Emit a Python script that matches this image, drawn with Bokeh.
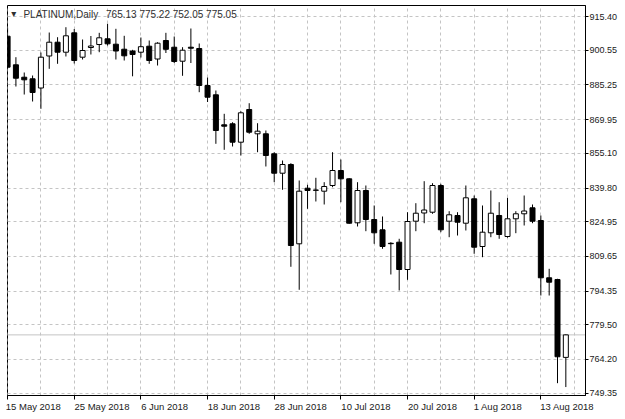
from bokeh.plotting import figure
from bokeh.models import FixedTicker, Range1d, Label, Span, ColumnDataSource, NumeralTickFormatter
from bokeh.embed import file_html
from bokeh.resources import INLINE

# Daily OHLC, 15 May 2018 .. 16 Aug 2018 (one bar per trading day)
opens = [906.71, 894.11, 888.64, 887.94, 883.88, 897.99, 904.07, 899.66, 908.21, 897.46,
         901.73, 903.05, 905.57, 903.19, 900.98, 900.19, 899.66, 902.31, 896.66, 904.82,
         901.86, 895.69, 901.86, 901.29, 884.98, 880.88, 867.66, 868.10, 859.99, 874.40,
         863.69, 863.69, 854.88, 846.32, 850.16, 815.20, 839.71, 838.90, 838.39, 840.90,
         847.51, 843.85, 824.46, 838.70, 825.91, 821.37, 815.42, 815.91, 803.87, 825.17,
         828.78, 829.13, 840.90, 825.17, 827.68, 824.28, 835.04, 814.01, 820.05, 827.68,
         818.42, 826.22, 828.43, 831.07, 825.47, 800.22, 799.47, 765.13]
highs = [910.55, 897.46, 890.71, 889.39, 899.53, 908.34, 906.27, 910.68, 909.89, 905.26,
         906.80, 908.21, 912.18, 909.98, 906.89, 900.72, 906.14, 904.82, 904.07, 908.21,
         906.58, 901.86, 910.11, 903.50, 888.51, 882.78, 872.51, 868.80, 873.65, 877.18,
         868.36, 865.15, 855.58, 851.92, 850.73, 843.11, 841.21, 844.30, 842.36, 855.58,
         852.36, 844.12, 842.36, 840.90, 832.09, 827.24, 815.91, 817.41, 829.13, 833.10,
         842.80, 841.92, 841.65, 829.57, 829.13, 840.90, 836.49, 832.09, 838.70, 833.54,
         835.48, 829.57, 836.49, 832.53, 827.68, 804.18, 799.78, 775.22]
lows = [892.34, 884.54, 881.01, 877.93, 874.71, 892.34, 894.55, 897.77, 894.68, 896.44,
        898.65, 899.66, 902.61, 896.44, 896.00, 889.04, 897.32, 894.55, 893.80, 899.31,
        894.90, 889.26, 894.90, 882.03, 877.71, 859.28, 856.64, 858.09, 854.13, 863.69,
        855.58, 849.28, 842.36, 839.01, 805.07, 794.93, 830.63, 833.85, 832.53, 840.15,
        833.54, 824.02, 822.83, 820.76, 815.20, 813.00, 801.67, 794.62, 799.33, 820.76,
        824.28, 828.43, 820.32, 818.11, 818.86, 821.07, 810.80, 809.30, 818.11, 817.41,
        817.90, 819.88, 823.27, 824.28, 792.41, 792.41, 753.76, 752.05]
closes = [893.05, 888.20, 887.49, 881.90, 897.46, 904.07, 899.66, 906.89, 896.00, 900.41,
          902.39, 906.01, 903.36, 900.19, 898.07, 898.65, 902.08, 896.00, 903.63, 900.94,
          895.56, 900.54, 901.42, 884.98, 879.82, 865.15, 867.04, 859.99, 872.95, 864.40,
          864.84, 854.13, 846.32, 850.16, 814.45, 838.39, 838.70, 838.80, 840.46, 847.51,
          843.85, 824.28, 838.70, 825.91, 820.05, 814.01, 815.25, 803.87, 825.03, 828.69,
          830.10, 840.90, 821.37, 827.99, 824.72, 835.48, 813.70, 820.32, 828.69, 819.30,
          826.22, 828.43, 829.66, 825.17, 800.22, 798.28, 765.40, 775.05]

date_tick_bars = [0, 8, 16, 24, 32, 40, 48, 56, 64]
date_labels = ["15 May 2018", "25 May 2018", "6 Jun 2018", "18 Jun 2018", "28 Jun 2018",
               "10 Jul 2018", "20 Jul 2018", "1 Aug 2018", "13 Aug 2018"]
price_ticks = [749.35, 764.20, 779.50, 794.35, 809.65, 824.95, 839.80, 855.10,
               869.95, 885.25, 900.55, 915.40]
symbol = "PLATINUM,Daily"
last_price = 775.05

FONT = "Liberation Sans"
NBSP = "\u00a0"

# Arial/Liberation advance widths (em) used to left-align date labels at their tick
_ADV = {" ": 0.278, "M": 0.833, "A": 0.667, "J": 0.5, "a": 0.556, "y": 0.5, "u": 0.556,
        "n": 0.556, "l": 0.222, "g": 0.556}


def left_aligned(label, first=False):
    if first:
        # the first label is kept inside the canvas by Bokeh; only offset by the border
        return NBSP * 2 + label
    w = sum(_ADV.get(ch, 0.556) for ch in label)
    return NBSP * int(round(w / 0.278)) + label


n = len(opens)
xs = list(range(n))
tops = [max(o, c) for o, c in zip(opens, closes)]
bots = [min(o, c) for o, c in zip(opens, closes)]
fills = ["white" if c >= o else "black" for o, c in zip(opens, closes)]
src = ColumnDataSource(dict(x=xs, h=highs, l=lows, top=tops, bottom=bots, fill=fills))

p = figure(width=625, height=419,
           x_range=Range1d(-0.01, 69.36), y_range=Range1d(748.33, 920.25),
           output_backend="svg", toolbar_location=None,
           x_axis_location="below", y_axis_location="right",
           min_border_left=7, min_border_top=5, min_border_right=40, min_border_bottom=24)
p.background_fill_color = "white"
p.border_fill_color = "white"
p.outline_line_color = "black"
p.outline_line_width = 1

# grid
for g in (p.xgrid, p.ygrid):
    g.grid_line_color = "#c4c4c4"
    g.grid_line_dash = "3 3"
    g.grid_line_width = 1
p.xgrid.ticker = FixedTicker(ticks=list(range(0, 72, 4)))

# y axis (right)
ya = p.yaxis[0]
ya.ticker = FixedTicker(ticks=price_ticks)
ya.formatter = NumeralTickFormatter(format="0.00")
ya.major_tick_out = 3
ya.major_tick_in = 0
ya.minor_tick_out = 0
ya.minor_tick_in = 0
ya.major_label_standoff = 1
ya.axis_line_color = "black"
ya.major_tick_line_color = "black"
ya.major_label_text_font = FONT
ya.major_label_text_font_size = "9px"
ya.major_label_text_color = "#1a1a1a"

# x axis (bottom)
xa = p.xaxis[0]
xa.ticker = FixedTicker(ticks=date_tick_bars)
xa.major_label_overrides = {b: left_aligned(s, k == 0)
                            for k, (b, s) in enumerate(zip(date_tick_bars, date_labels))}
xa.major_tick_out = 4
xa.major_tick_in = 0
xa.minor_tick_out = 0
xa.minor_tick_in = 0
xa.major_label_standoff = 1
xa.axis_line_color = "black"
xa.major_tick_line_color = "black"
xa.major_label_text_font = FONT
xa.major_label_text_font_size = "9.5px"
xa.major_label_text_color = "#1a1a1a"

# last price line
p.add_layout(Span(location=last_price, dimension="width", line_color="#c4c4c4",
                  line_width=1, level="underlay"))

# candles
p.segment(x0="x", y0="l", x1="x", y1="h", source=src, line_color="black", line_width=1)
p.vbar(x="x", width=0.6, top="top", bottom="bottom", source=src,
       fill_color="fill", line_color="black", line_width=1)

# header text
p.add_layout(Label(x=0.45, y=916.6, text="\u25be", text_font="DejaVu Sans",
                   text_font_size="10px", text_color="#303030",
                   text_baseline="middle", text_align="left"))
p.add_layout(Label(x=1.9, y=916.3, text=symbol + "\u2002" + NBSP +
                   " ".join(f"{v:.2f}" for v in (opens[-1], highs[-1], lows[-1], closes[-1])),
                   text_font=FONT, text_font_size="10px", text_color="#303030",
                   text_baseline="middle", text_align="left"))

# current price marker on the price scale
p.add_layout(Label(x=69.42, y=last_price, text=f"{last_price:.2f}" + NBSP * 4, text_font=FONT,
                   text_font_size="9px", text_color="white", text_baseline="middle",
                   text_align="left", background_fill_color="black", padding=1, x_offset=1))

open("out.html", "w").write(file_html(p, INLINE))
